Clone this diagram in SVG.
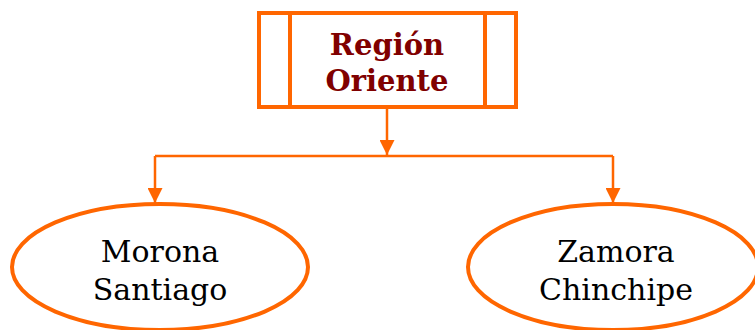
<svg xmlns="http://www.w3.org/2000/svg" width="755" height="330" viewBox="0 0 755 330">
<style>
.shape{fill:#fff;stroke:#ff6600;stroke-width:4}
.conn{fill:none;stroke:#ff6600;stroke-width:2.5}
.title{font-family:"DejaVu Serif",serif;font-weight:bold;font-size:29px;fill:#800000;text-anchor:middle}
.lbl{font-family:"DejaVu Serif",serif;font-size:30px;fill:#000;text-anchor:middle}
</style>
<defs>
<marker id="arrL" viewBox="0 0 10 10" refX="10" refY="5" markerWidth="15" markerHeight="15" orient="auto" markerUnits="userSpaceOnUse">
<path d="M0,0 L10,5 L0,10 z" fill="#ff6600"/>
</marker>
</defs>
<g id="connectors">
<path class="conn" d="M387,108 L387,155" marker-end="url(#arrL)"/>
<path class="conn" d="M155,156 L613,156"/>
<path class="conn" d="M155,156 L155,203" marker-end="url(#arrL)"/>
<path class="conn" d="M613,156 L613,203" marker-end="url(#arrL)"/>
</g>
<g id="region-oriente">
<rect class="shape" x="259" y="13" width="257" height="94"/>
<line class="shape" x1="290" y1="13" x2="290" y2="107"/>
<line class="shape" x1="485" y1="13" x2="485" y2="107"/>
<text class="title" x="387" y="55">Región</text>
<text class="title" x="387" y="91">Oriente</text>
</g>
<g id="morona-santiago">
<ellipse class="shape" cx="160" cy="267" rx="148" ry="63"/>
<text class="lbl" x="160" y="262">Morona</text>
<text class="lbl" x="160" y="300">Santiago</text>
</g>
<g id="zamora-chinchipe">
<ellipse class="shape" cx="613" cy="267" rx="145" ry="63"/>
<text class="lbl" x="616" y="262">Zamora</text>
<text class="lbl" x="616" y="300">Chinchipe</text>
</g>
</svg>
